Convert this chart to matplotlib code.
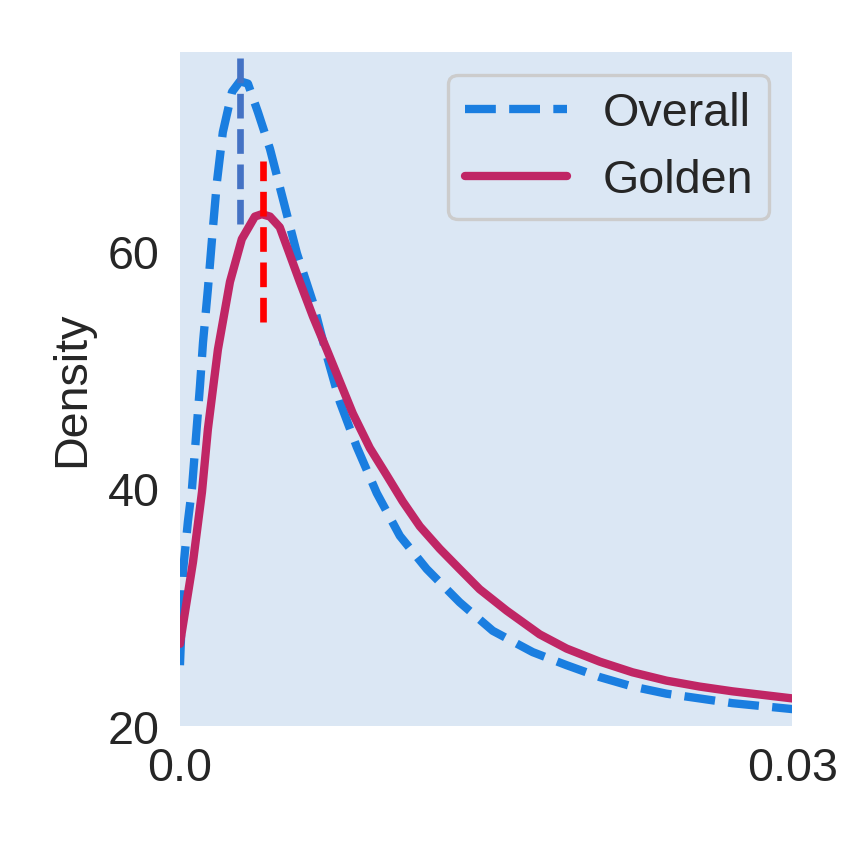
import matplotlib
matplotlib.use("Agg")
import matplotlib.pyplot as plt

# Density curves (x = value, y = density)
overall_x = [0.0, 0.00005, 0.00015, 0.00039, 0.00059, 0.00098, 0.00113, 0.00137,
             0.00157, 0.00181, 0.00210, 0.00255, 0.00294, 0.00333, 0.00382, 0.00441,
             0.00504, 0.00573, 0.00651, 0.00719, 0.00783, 0.00866, 0.00964, 0.01077,
             0.01209, 0.01370, 0.01532, 0.01728, 0.01894, 0.02056, 0.02217, 0.02383,
             0.02545, 0.02706, 0.03]
overall_y = [25.1, 27.3, 33.0, 37.2, 40.0, 48.6, 52.3, 56.8,
             61.0, 65.8, 70.0, 73.4, 74.3, 74.1, 71.7, 68.6,
             64.4, 59.8, 55.7, 51.2, 47.3, 43.5, 39.6, 36.0,
             33.2, 30.4, 28.0, 26.2, 25.1, 24.1, 23.3, 22.7,
             22.3, 21.9, 21.4]

golden_x = [0.0, 0.00025, 0.00064, 0.00108, 0.00137, 0.00186, 0.00245, 0.00303,
            0.00367, 0.00401, 0.00441, 0.00489, 0.00538, 0.00587, 0.00651, 0.00719,
            0.00783, 0.00847, 0.00930, 0.01013, 0.01091, 0.01175, 0.01273, 0.01370,
            0.01468, 0.01600, 0.01762, 0.01894, 0.02056, 0.02217, 0.02383, 0.02545,
            0.02706, 0.03]
golden_y = [26.9, 29.6, 33.8, 39.7, 45.0, 51.7, 57.4, 61.0,
            62.9, 63.1, 62.9, 62.0, 59.7, 57.4, 54.5, 51.7,
            49.0, 46.3, 43.4, 41.1, 38.9, 36.8, 34.9, 33.2,
            31.5, 29.7, 27.7, 26.5, 25.4, 24.5, 23.8, 23.3,
            22.9, 22.3]

# mode markers: x position, bottom, top
overall_mode = [0.00294, 62.3, 76.8]
golden_mode = [0.00405, 54.0, 67.6]

x_ticks = [0.0, 0.03]
x_labels = ["0.0", "0.03"]
y_ticks = [20, 40, 60]

bg = "#dbe7f4"
plt.rcParams["font.family"] = ["Liberation Sans", "DejaVu Sans"]
plt.rcParams["font.size"] = 14

fig = plt.figure(figsize=(3.52, 3.52), dpi=240)
ax = fig.add_axes([0.213, 0.14, 0.725, 0.798])
ax.set_facecolor(bg)
for s in ax.spines.values():
    s.set_visible(False)

ax.plot(overall_x, overall_y, color="#1a7ee0", lw=2.5, ls="--", label="Overall",
        dash_joinstyle="round")
ax.plot(golden_x, golden_y, color="#c02665", lw=2.5, label="Golden",
        solid_capstyle="round", solid_joinstyle="round")
ax.vlines(overall_mode[0], overall_mode[1], overall_mode[2], color="#4472c4",
          lw=2, linestyles="--")
ax.vlines(golden_mode[0], golden_mode[1], golden_mode[2], color="#ff0000",
          lw=2, linestyles="--")

ax.set_xlim(0, 0.03)
ax.set_ylim(20, 76.8)
ax.set_xticks(x_ticks)
ax.set_xticklabels(x_labels)
ax.set_yticks(y_ticks)
ax.tick_params(length=0, pad=6, colors="#262626", labelsize=14)
ax.set_ylabel("Density", color="#262626", fontsize=14, labelpad=4)

leg = ax.legend(loc="upper right", fontsize=14, handlelength=2.2,
                handletextpad=0.75, facecolor=bg, edgecolor="#cccccc",
                framealpha=1, borderpad=0.35, labelspacing=0.5)
for t in leg.get_texts():
    t.set_color("#262626")

fig.savefig("out.png", dpi=240, facecolor="white")
